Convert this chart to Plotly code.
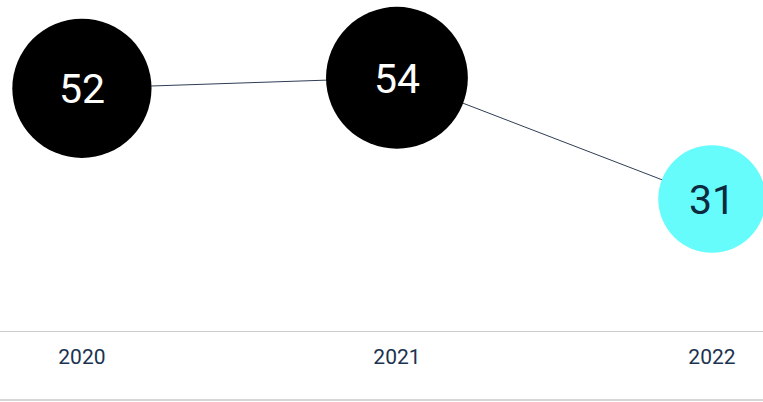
import numpy as np
import plotly.graph_objects as go

years = ["2020", "2021", "2022"]
values = [52, 54, 31]
marker_colors = ["#000000", "#000000", "#66FCFC"]
text_colors = ["#FFFFFF", "#FFFFFF", "#0D2A3F"]

sizes = [19.3 * np.sqrt(v) for v in values]

fig = go.Figure()
fig.add_trace(go.Scatter(
    x=[0, 1, 2],
    y=values,
    mode="lines+markers",
    line=dict(color="#2F3E55", width=1),
    marker=dict(size=sizes, color=marker_colors, opacity=1, line=dict(width=0)),
    cliponaxis=False,
    hoverinfo="skip",
))

for i, (v, c) in enumerate(zip(values, text_colors)):
    fig.add_annotation(x=i, y=v, text=str(v), showarrow=False,
                       xanchor="center", yanchor="middle", yshift=-1,
                       font=dict(family="Roboto", size=41, color=c))

fig.add_shape(type="line", xref="paper", yref="paper",
              x0=0, x1=1, y0=-69 / 331, y1=-69 / 331,
              line=dict(color="#D6D6D6", width=2))

fig.update_layout(
    width=763, height=402,
    margin=dict(l=0, r=0, t=0, b=71),
    paper_bgcolor="white", plot_bgcolor="white",
    showlegend=False,
    xaxis=dict(
        range=[-0.26, 2.162],
        tickmode="array", tickvals=[0, 1, 2], ticktext=years,
        showgrid=False, zeroline=False,
        showline=True, linecolor="#CCCCCC", linewidth=1,
        ticks="", tickfont=dict(family="Roboto", size=21, color="#1B3350"),
        ticklabelstandoff=7,
        fixedrange=True,
    ),
    yaxis=dict(
        range=[5.95, 68.76],
        visible=False, showgrid=False, zeroline=False,
        fixedrange=True,
    ),
)

fig.write_html("out.html")
